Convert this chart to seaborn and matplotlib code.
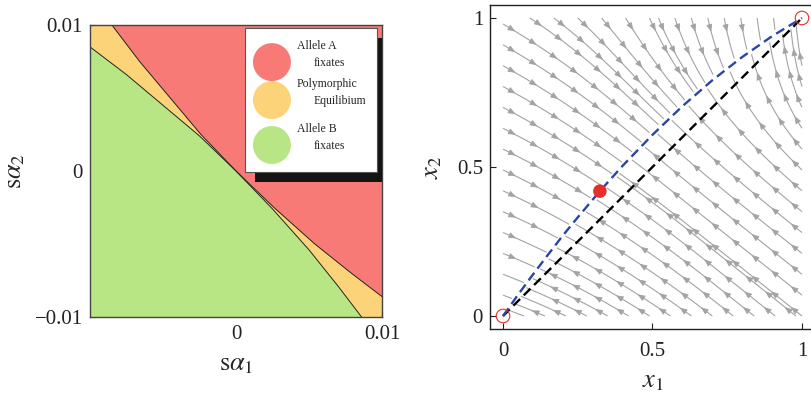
#!/usr/bin/env python3
"""
Fixation regions (left) and phase portrait of allele frequencies (right)
"""

import numpy as np
import matplotlib.pyplot as plt
import seaborn as sns
from matplotlib.patches import Rectangle, Circle
from matplotlib.collections import LineCollection

sns.set_theme(style='ticks')
plt.rcParams['font.family'] = ['Liberation Serif', 'DejaVu Serif']
plt.rcParams['mathtext.fontset'] = 'stix'

# --- left panel: region boundaries (s*alpha1, s*alpha2)
lower_x = [-0.01, -0.0075, -0.005, -0.0025, 0.0, 0.0025, 0.005, 0.007, 0.0086]
lower_y = [0.0085, 0.0066, 0.0045, 0.0024, 0.0, -0.0026, -0.0054, -0.0079, -0.01]
upper_x = [-0.0085, -0.0066, -0.0045, -0.0024, 0.0, 0.0026, 0.0054, 0.0079, 0.01]
upper_y = [0.01, 0.0075, 0.005, 0.0025, 0.0, -0.0025, -0.005, -0.007, -0.0086]
region_names = [('Allele A', 'fixates'), ('Polymorphic', 'Equilibium'), ('Allele B', 'fixates')]
region_colors = ['#F87A76', '#FCD379', '#B9E684']
left_xticks = [0, 0.01]
left_xticklabels = ['0', '0.01']
left_yticks = [-0.01, 0, 0.01]
left_yticklabels = ['\u22120.01', '0', '0.01']

# --- right panel: slow curve, diagonal and fixed points (x1, x2)
slow_x1 = [0.0, 0.05, 0.1, 0.15, 0.2, 0.25, 0.324, 0.4, 0.5, 0.6, 0.7, 0.8, 0.9, 1.0]
slow_x2 = [0.0, 0.071, 0.139, 0.205, 0.270, 0.331, 0.419, 0.504, 0.608, 0.704, 0.791, 0.869, 0.939, 1.0]
diag_x1 = [0.0, 1.0]
diag_x2 = [0.0, 1.0]
stable_x1 = [0.324]
stable_x2 = [0.419]
unstable_x1 = [0.0, 1.0]
unstable_x2 = [0.0, 1.0]
right_ticks = [0, 0.5, 1]
right_ticklabels = ['0', '0.5', '1']

# flow field: fast motion toward the slow curve, streamline slope steepens to the top right
slope_gain = 11.7
STREAM_GREY = '#A3A3A3'
STOP_GAP = 0.012   # streamlines end just short of the slow curve


def flow_direction(p):
    """Unit direction of the fast flow at p, and signed distance to the slow curve"""
    x1, x2 = p
    d = x2 - np.interp(x1, slow_x1, slow_x2)
    s = min(0.35 + 0.25 * x2 + 0.6 * x1, 0.8) + slope_gain * x1 ** 3 * x2 ** 6
    v = np.array([1.0, -s]) * np.sign(d)
    return v / np.hypot(v[0], v[1]), d


def trace_streamline(seed, ds=0.004, nmax=700):
    """Follow the flow from seed until it nears the slow curve or leaves the square"""
    p = np.array(seed, dtype=float)
    pts = [p.copy()]
    _, d0 = flow_direction(p)
    for _ in range(nmax):
        v, _ = flow_direction(p)
        v2, _ = flow_direction(p + 0.5 * ds * v)
        q = p + ds * v2
        if q[0] < -1e-9 or q[0] > 1 + 1e-9 or q[1] < -1e-9 or q[1] > 1 + 1e-9:
            break
        _, dq = flow_direction(q)
        if np.sign(dq) != np.sign(d0) or abs(dq) < STOP_GAP:
            break
        p = q
        pts.append(p.copy())
    return np.array(pts)


fig = plt.figure(figsize=(8.11, 3.97), dpi=100)
ax1 = fig.add_axes([90 / 811, 80 / 397, 292 / 811, 292 / 397])
ax2 = fig.add_axes([490 / 811, 68 / 397, 325 / 811, 324 / 397])

# ---------------- left panel
ax1.set_facecolor(region_colors[1])
ax1.fill(upper_x + [0.01], upper_y + [0.01], color=region_colors[0], lw=0)
ax1.fill(lower_x + [-0.01], lower_y + [-0.01], color=region_colors[2], lw=0)
sns.lineplot(x=lower_x, y=lower_y, color='#222222', lw=0.7, ax=ax1)
sns.lineplot(x=upper_x, y=upper_y, color='#222222', lw=0.7, ax=ax1)
ax1.set_xlim(-0.01, 0.01)
ax1.set_ylim(-0.01, 0.01)
ax1.set_xticks(left_xticks, left_xticklabels)
ax1.set_yticks(left_yticks, left_yticklabels)
ax1.tick_params(direction='in', length=4, width=0.8, labelsize=15, colors='#222222')
ax1.tick_params(axis='x', pad=6)
ax1.tick_params(axis='y', pad=5)
for sp in ax1.spines.values():
    sp.set_color('#444444')
    sp.set_linewidth(1.0)
ax1.set_xlabel(r'$\mathrm{s}\alpha_1$', fontsize=19)
ax1.set_ylabel(r'$\mathrm{s}\alpha_2$', fontsize=19)
ax1.xaxis.set_label_coords(0.5, -0.125)
ax1.yaxis.set_label_coords(-0.216, 0.5)

# legend box with drop shadow
ax1.add_patch(Rectangle((0.565, 0.463), 0.452, 0.493, transform=ax1.transAxes,
                        facecolor='#141414', edgecolor='none', zorder=5))
ax1.add_patch(Rectangle((0.531, 0.497), 0.452, 0.493, transform=ax1.transAxes,
                        facecolor='white', edgecolor='#555555', lw=0.8, zorder=6))
entry_y = [0.873, 0.743, 0.589]
for (line1, line2), color, cy in zip(region_names, region_colors, entry_y):
    ax1.add_patch(Circle((0.623, cy), 0.065, transform=ax1.transAxes,
                         facecolor=color, edgecolor='none', zorder=7))
    ax1.text(0.709, cy + 0.055, line1, transform=ax1.transAxes, fontsize=8.5,
             va='center', ha='left', zorder=8)
    ax1.text(0.767, cy - 0.003, line2, transform=ax1.transAxes, fontsize=8.5,
             va='center', ha='left', zorder=8)

# ---------------- right panel
# seeds on the square's edges: above the curve the flow comes from the left/top,
# below it from the bottom/right
seeds = ([(0.0, y) for y in np.arange(0.07, 0.99, 0.07)] +
         [(x, 1.0) for x in np.concatenate([np.arange(0.09, 0.5, 0.08), np.arange(0.52, 0.94, 0.055)])] +
         [(x, 0.0) for x in np.arange(0.07, 1.0, 0.07)] +
         [(1.0, y) for y in np.arange(0.0, 0.9, 0.07)])

paths = [trace_streamline(s) for s in seeds]
paths = [p for p in paths if len(p) > 3]
ax2.add_collection(LineCollection(paths, colors=STREAM_GREY, linewidths=0.8, zorder=1))

# arrowheads spaced along every streamline, kept off the slow curve
for p in paths:
    seg = np.hypot(*np.diff(p, axis=0).T)
    arc = np.concatenate([[0], np.cumsum(seg)])
    for s in np.arange(0.045, arc[-1] - 0.035, 0.085):
        i = np.searchsorted(arc, s)
        i = min(max(i, 2), len(p) - 1)
        ax2.annotate('', xy=p[i], xytext=p[i - 2],
                     arrowprops=dict(arrowstyle='-|>,head_length=0.45,head_width=0.18',
                                     color=STREAM_GREY, lw=0.6, shrinkA=0, shrinkB=0,
                                     mutation_scale=10),
                     zorder=2)

sns.lineplot(x=diag_x1, y=diag_x2, color='black', lw=1.7, ax=ax2, zorder=3)
ax2.lines[-1].set_dashes([4, 2.2])
sns.lineplot(x=slow_x1, y=slow_x2, color='#2A45A5', lw=1.7, ax=ax2, zorder=4)
ax2.lines[-1].set_dashes([4, 2.2])
sns.scatterplot(x=stable_x1, y=stable_x2, s=95, color='#E5302A', edgecolor='none',
                ax=ax2, zorder=6)
ax2.scatter(unstable_x1, unstable_x2, s=95, facecolors='none', edgecolors='#E5302A',
            linewidths=0.8, zorder=6)
ax2.set_xlim(-0.0435, 1.0435)
ax2.set_ylim(-0.0436, 1.0436)
ax2.set_xticks(right_ticks, right_ticklabels)
ax2.set_yticks(right_ticks, right_ticklabels)
ax2.tick_params(direction='in', length=4, width=0.8, labelsize=15, colors='#222222')
ax2.tick_params(axis='x', pad=9)
ax2.tick_params(axis='y', pad=5)
for sp in ax2.spines.values():
    sp.set_color('#222222')
    sp.set_linewidth(1.0)
ax2.set_xlabel(r'$x_1$', fontsize=19)
ax2.set_ylabel(r'$x_2$', fontsize=19)
ax2.xaxis.set_label_coords(0.5, -0.13)
ax2.yaxis.set_label_coords(-0.1415, 0.5)

fig.savefig('out.png', dpi=100)
print("Created: out.png")
